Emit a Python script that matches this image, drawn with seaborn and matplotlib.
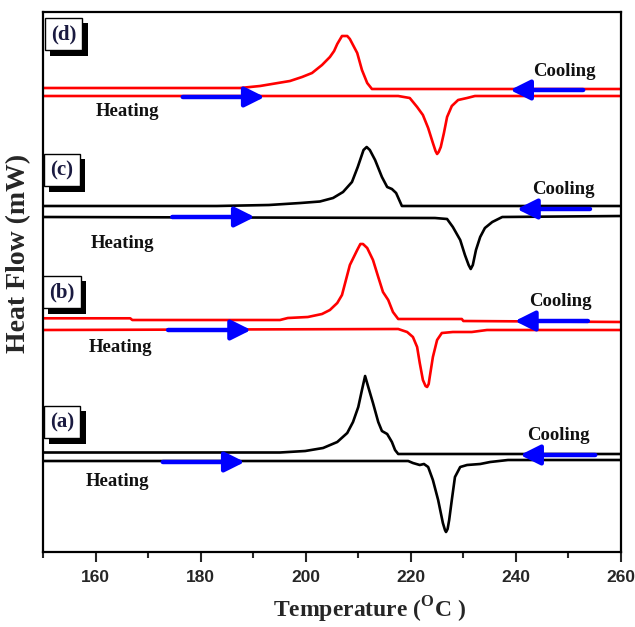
import matplotlib
matplotlib.use("Agg")
import matplotlib.pyplot as plt
import matplotlib.patheffects as pe
import seaborn as sns
import pandas as pd

# ---------------- data ----------------
# (d) red
d_cool_T = [150, 187.5, 191.3, 194.7, 197.0, 199.3, 201.2, 203.1, 204.6, 205.4, 206.0, 206.9, 207.9, 208.4, 208.8, 209.8, 210.7, 211.7, 212.6, 260]
d_cool_H = [46.4, 46.4, 46.6, 46.9, 47.1, 47.5, 47.9, 48.7, 49.5, 50.1, 50.8, 51.6, 51.6, 51.3, 50.9, 49.9, 48.2, 46.9, 46.3, 46.3]
d_heat_T = [150, 217.6, 219.8, 221.2, 222.3, 223.3, 224.2, 224.7, 225.0, 225.3, 225.7, 226.3, 226.9, 227.8, 229.0, 230.7, 232.2, 260]
d_heat_H = [45.6, 45.6, 45.4, 44.5, 43.7, 42.4, 40.9, 40.1, 39.8, 40.0, 40.5, 41.9, 43.5, 44.6, 45.2, 45.4, 45.6, 45.6]
# (c) black
c_cool_T = [150, 183.1, 193.0, 199.0, 202.7, 205.2, 207.1, 208.8, 209.9, 211.0, 211.6, 212.2, 213.2, 214.5, 215.5, 216.4, 217.2, 218.3, 260]
c_cool_H = [34.6, 34.6, 34.7, 34.9, 35.05, 35.4, 36.0, 37.0, 38.5, 40.2, 40.5, 40.2, 39.2, 37.5, 36.5, 36.3, 35.9, 34.6, 34.6]
c_heat_T = [150, 224.6, 226.9, 228.0, 229.4, 230.3, 231.0, 231.4, 231.8, 232.4, 233.2, 234.1, 235.5, 237.4, 260]
c_heat_H = [33.5, 33.4, 33.3, 32.5, 31.2, 29.7, 28.7, 28.3, 28.7, 30.2, 31.5, 32.4, 33.0, 33.5, 33.6]
# (b) red
b_cool_T = [150, 166.6, 167.0, 195.1, 196.6, 200.4, 203.1, 204.6, 206.0, 206.9, 207.5, 208.4, 209.8, 210.4, 210.9, 211.7, 212.8, 213.8, 214.7, 215.7, 216.6, 217.6, 229.7, 230.0, 260]
b_cool_H = [23.37, 23.37, 23.2, 23.2, 23.4, 23.5, 23.8, 24.2, 24.9, 25.7, 26.9, 28.7, 30.2, 30.8, 30.8, 30.4, 29.2, 27.5, 26.0, 25.2, 24.0, 23.3, 23.3, 23.1, 23.0]
b_heat_T = [150, 217.6, 219.3, 220.4, 221.2, 221.7, 222.3, 222.8, 223.1, 223.4, 223.6, 224.2, 225.0, 225.9, 228.0, 231.6, 234.5, 260]
b_heat_H = [22.2, 22.3, 22.0, 21.5, 20.5, 18.9, 17.2, 16.6, 16.5, 16.8, 17.5, 19.5, 21.2, 21.9, 22.0, 22.0, 22.2, 22.2]
# (a) black
a_cool_T = [150, 195.1, 199.9, 203.3, 206.0, 207.9, 209.0, 210.0, 210.7, 211.3, 211.9, 212.8, 213.8, 214.5, 215.5, 216.4, 217.0, 217.6, 260]
a_cool_H = [9.95, 9.95, 10.1, 10.4, 11.0, 11.9, 13.0, 14.5, 16.2, 17.6, 16.5, 14.9, 13.0, 12.1, 11.8, 11.0, 10.2, 9.8, 9.8]
a_heat_T = [150, 219.5, 220.4, 221.7, 222.5, 223.3, 224.2, 225.2, 226.1, 226.5, 226.7, 227.0, 227.3, 227.8, 228.4, 229.4, 230.7, 233.2, 235.1, 238.5, 260]
a_heat_H = [9.1, 9.1, 8.9, 8.7, 8.8, 8.5, 7.2, 5.2, 2.9, 2.2, 2.0, 2.3, 3.2, 5.2, 7.5, 8.5, 8.7, 8.8, 9.0, 9.2, 9.2]

samples = ["(a)", "(b)", "(c)", "(d)"]
colors = ["black", "red", "black", "red"]
curves = [
    (a_cool_T, a_cool_H, a_heat_T, a_heat_H),
    (b_cool_T, b_cool_H, b_heat_T, b_heat_H),
    (c_cool_T, c_cool_H, c_heat_T, c_heat_H),
    (d_cool_T, d_cool_H, d_heat_T, d_heat_H),
]

# annotation positions (temperature, heat flow)
label_pos = [(153.6, 13.0), (153.6, 26.0), (153.6, 38.2), (153.9, 51.8)]
heat_text = [(164.2, 7.0), (164.7, 20.5), (165.1, 30.8), (166.0, 44.0)]
cool_text = [(248.1, 11.6), (248.4, 25.0), (249.1, 36.3), (249.3, 48.1)]
heat_arrow = [((172.8, 9.0), (188.4, 9.0)), ((173.8, 22.2), (189.6, 22.2)),
              ((174.6, 33.5), (190.3, 33.5)), ((176.6, 45.5), (192.2, 45.5))]
cool_arrow = [((255.1, 9.7), (240.8, 9.7)), ((253.7, 23.1), (239.8, 23.1)),
              ((254.1, 34.3), (240.2, 34.3)), ((252.8, 46.2), (238.9, 46.2))]

xticks = [160, 180, 200, 220, 240, 260]

# ---------------- plot ----------------
sns.set_style("white")
plt.rcParams["font.family"] = ["Liberation Serif", "DejaVu Serif"]
plt.rcParams["mathtext.fontset"] = "custom"
plt.rcParams["mathtext.rm"] = "Liberation Serif:bold"

fig = plt.figure(figsize=(6.35, 6.27), dpi=100)
ax = fig.add_axes([43 / 635, 1 - 552 / 627, 578 / 635, 540 / 627])

for (cT, cH, hT, hH), col in zip(curves, colors):
    sns.lineplot(x=cT, y=cH, ax=ax, color=col, lw=1.9, sort=False, estimator=None)
    sns.lineplot(x=hT, y=hH, ax=ax, color=col, lw=1.9, sort=False, estimator=None)

for i, s in enumerate(samples):
    t = ax.text(label_pos[i][0], label_pos[i][1], s, fontsize=15, fontweight="bold",
                color="#1a1a40", ha="center", va="center",
                bbox=dict(boxstyle="square,pad=0.3", fc="white", ec="black", lw=1.0))
    t.get_bbox_patch().set_path_effects([
        pe.SimplePatchShadow(offset=(3.8, -3.8), shadow_rgbFace="black", alpha=1.0),
        pe.Normal()])
    ax.text(heat_text[i][0], heat_text[i][1], "Heating", fontsize=13.5, fontweight="bold",
            ha="center", va="center", color="#111111")
    ax.text(cool_text[i][0], cool_text[i][1], "Cooling", fontsize=13.5, fontweight="bold",
            ha="center", va="center", color="#111111")
    for (tail, tip) in (heat_arrow[i], cool_arrow[i]):
        ax.annotate("", xy=tip, xytext=tail,
                    arrowprops=dict(arrowstyle="-|>,head_length=0.6,head_width=0.3",
                                    color="#0000ff", lw=3.2, mutation_scale=20,
                                    shrinkA=0, shrinkB=0))

ax.set_xlim(150, 260)
ax.set_ylim(0, 54)
ax.set_xticks(xticks)
ax.set_xticks(range(150, 261, 10), minor=True)
ax.set_yticks([])
ax.tick_params(axis="x", which="major", direction="out", length=7, width=1.5,
               bottom=True, top=False, pad=6)
ax.tick_params(axis="x", which="minor", direction="out", length=4, width=1.5,
               bottom=True, top=False)
for lab in ax.get_xticklabels():
    lab.set_family("Liberation Sans")
    lab.set_fontweight("bold")
    lab.set_fontsize(12.5)
for sp in ax.spines.values():
    sp.set_visible(True)
    sp.set_linewidth(1.6)
    sp.set_color("black")

fig.text(370 / 635, 1 - 610 / 627, r"Temperature ($^{\mathrm{O}}$C )", ha="center", va="center",
         fontsize=17, fontweight="bold")
fig.text(19 / 635, 1 - 253 / 627, "Heat Flow (mW)", ha="center", va="center",
         rotation=90, fontsize=20, fontweight="bold")

fig.savefig("out.png", dpi=100)
